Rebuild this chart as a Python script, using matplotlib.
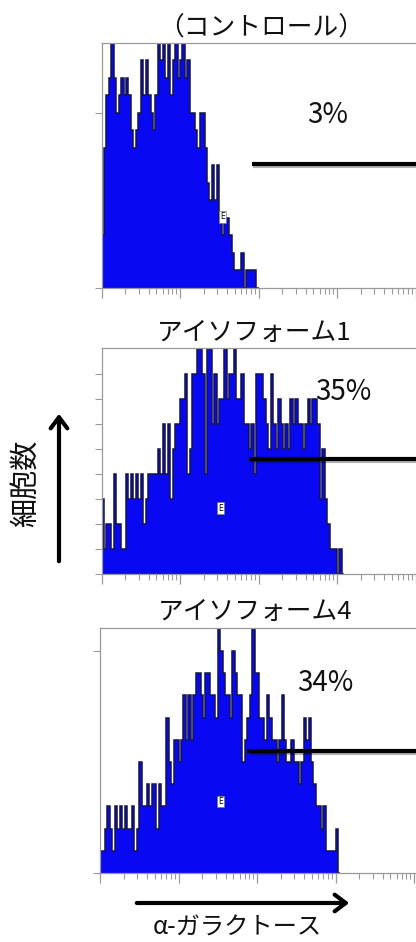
import numpy as np
import matplotlib
matplotlib.use("Agg")
import matplotlib.pyplot as plt
import matplotlib.patheffects as pe
from matplotlib.ticker import LogLocator, NullFormatter, FixedLocator

plt.rcParams['font.family'] = ['Noto Sans CJK JP', 'DejaVu Sans']

# ---------------- data ----------------
titles = ["（コントロール）", "アイソフォーム1", "アイソフォーム4"]
percents = ["3%", "35%", "34%"]

# histogram counts, 128 channels over 4 log decades (channel 0 starts at 10^0)
counts_control = [3, 8, 11, 12, 14, 12, 10, 11, 12, 11, 12, 11, 9, 8, 9, 10,
                  13, 11, 13, 11, 10, 9, 11, 14, 13, 14, 12, 14, 11, 13, 14, 12,
                  13, 14, 12, 13, 10, 10, 9, 8, 10, 10, 8, 6, 5, 7, 5, 7,
                  4, 3, 4, 4, 3, 2, 1, 1, 1, 2, 0, 1, 1, 1, 1, 0]
counts_iso1 = [3, 1, 2, 2, 1, 4, 2, 2, 1, 1, 4, 3, 4, 3, 4, 3,
               4, 2, 3, 4, 4, 4, 4, 5, 4, 6, 4, 6, 3, 5, 6, 6,
               7, 7, 8, 4, 5, 8, 8, 9, 9, 8, 4, 9, 9, 6, 8, 6,
               7, 7, 9, 7, 8, 8, 9, 7, 7, 8, 6, 6, 5, 6, 4, 8,
               8, 8, 7, 6, 5, 8, 6, 5, 7, 6, 5, 6, 5, 7, 6, 7,
               6, 6, 5, 6, 7, 6, 7, 7, 6, 3, 5, 3, 2, 1, 1, 1,
               0, 1, 0]
counts_iso4 = [1, 1, 2, 3, 2, 1, 3, 2, 3, 2, 3, 2, 2, 3, 1, 2,
               5, 3, 3, 4, 3, 4, 4, 2, 4, 3, 3, 7, 5, 4, 6, 6,
               5, 6, 8, 6, 8, 6, 8, 9, 9, 8, 7, 9, 9, 8, 8, 7,
               11, 10, 9, 8, 8, 7, 10, 9, 8, 8, 5, 6, 7, 8, 11, 9,
               9, 7, 7, 6, 8, 7, 6, 6, 5, 6, 8, 6, 5, 5, 6, 5,
               5, 4, 5, 7, 6, 7, 5, 4, 3, 3, 2, 3, 1, 1, 1, 1,
               2, 0]
all_counts = [counts_control, counts_iso1, counts_iso4]

y_tops = [14, 9.04, 11.04]
y_ticks = [[0, 10], list(range(0, 9)), [0, 10]]
gate_start = [82, 76, 75]       # marker gate starts (fluorescence)
gate_level = [7.1, 4.6, 5.5]    # gate bar height (counts)

ylabel = "細胞数"
xlabel = "α-ガラクトース"

# ---------------- layout ----------------
W, H = 416, 942
fig = plt.figure(figsize=(W / 100, H / 100), dpi=100)
fig.patch.set_facecolor('white')

def box(left, top, bottom, width=316):
    return [left / W, 1 - bottom / H, width / W, (bottom - top) / H]

boxes = [box(101.5, 43, 288), box(101.5, 348, 574), box(100, 628, 873)]
title_pos = [(261, 29), (254, 333), (255, 612)]
pct_pos = [(0.717, 0.706), (0.764, 0.805), (0.712, 0.776)]
e_pos = [(0.384, 0.29), (0.377, 0.292), (0.381, 0.291)]

xmax = 10 ** (316 / 78.5)
fill_c = '#0808f2'
edge_c = '#14144a'
spine_c = '#9a9a9a'

for i in range(3):
    ax = fig.add_axes(boxes[i])
    vals = np.array(all_counts[i], dtype=float)
    edges = 10 ** (np.arange(len(vals) + 1) * 4 / 128)
    ax.stairs(vals, edges, fill=True, color=fill_c, lw=0)
    ax.stairs(vals, edges, color=edge_c, lw=1.1)
    ax.set_xscale('log')
    ax.set_xlim(1, xmax)
    ax.set_ylim(0, y_tops[i])

    for s in ['left', 'top', 'bottom']:
        ax.spines[s].set_color(spine_c)
        ax.spines[s].set_linewidth(0.9)
    ax.spines['right'].set_visible(False)

    ax.yaxis.set_major_locator(FixedLocator(y_ticks[i]))
    ax.tick_params(axis='y', direction='out', length=5, width=0.8, color=spine_c,
                   labelleft=False)
    ax.xaxis.set_major_locator(LogLocator(base=10, numticks=10))
    ax.xaxis.set_minor_locator(LogLocator(base=10, subs=np.arange(2, 10), numticks=50))
    ax.xaxis.set_major_formatter(NullFormatter())
    ax.xaxis.set_minor_formatter(NullFormatter())
    ax.tick_params(axis='x', which='major', direction='out', length=7, width=0.9,
                   color=spine_c)
    ax.tick_params(axis='x', which='minor', direction='out', length=4, width=0.8,
                   color=spine_c)

    # gate bar
    ax.plot([gate_start[i], xmax], [gate_level[i], gate_level[i]], color='black',
            lw=3.0, solid_capstyle='butt', clip_on=False,
            path_effects=[pe.SimpleLineShadow(offset=(1, -1.5), alpha=0.3), pe.Normal()])

    ax.text(*pct_pos[i], percents[i], transform=ax.transAxes, ha='center',
            va='center', fontsize=20, color='#111111')
    ax.text(*e_pos[i], "E", transform=ax.transAxes, ha='center', va='center',
            fontsize=5.5, color='black', family=['DejaVu Sans'],
            bbox=dict(boxstyle='square,pad=0.15', fc='white', ec='#777777', lw=0.5))

    fig.text(title_pos[i][0] / W, 1 - title_pos[i][1] / H, titles[i], ha='center',
             va='center', fontsize=18.5, color='#111111')

# y label and arrow
fig.text(27 / W, 1 - 483 / H, ylabel, rotation=90, ha='center', va='center',
         fontsize=21, color='#111111')
fig.add_artist(matplotlib.patches.FancyArrowPatch(
    (59 / W, 1 - 564 / H), (59 / W, 1 - 411 / H), transform=fig.transFigure,
    arrowstyle='->,head_length=8,head_width=6', lw=3, color='black',
    mutation_scale=1))

# x label and arrow
fig.add_artist(matplotlib.patches.FancyArrowPatch(
    (134 / W, 1 - 903 / H), (352 / W, 1 - 903 / H), transform=fig.transFigure,
    arrowstyle='->,head_length=8,head_width=6', lw=3, color='black',
    mutation_scale=1))
fig.text(237 / W, 1 - 928 / H, xlabel, ha='center', va='center',
         fontsize=17.5, color='#111111')

fig.savefig('out.png', dpi=100, facecolor='white')
